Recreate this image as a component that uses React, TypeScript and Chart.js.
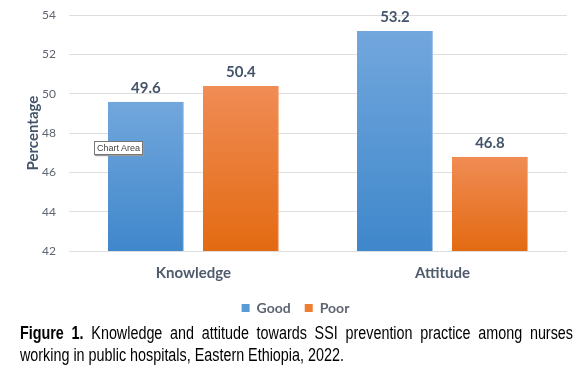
import React, { useEffect, useRef } from "react";
import { Chart, registerables } from "chart.js";

Chart.register(...registerables);

const categories = ["Knowledge", "Attitude"];
const goodValues = [49.6, 53.2];
const poorValues = [50.4, 46.8];
const seriesNames = ["Good", "Poor"];

const FONT = "Lato, 'Open Sans', 'Noto Sans', sans-serif";

function gradFill(top: string, bottom: string) {
  return (ctx: any) => {
    const chart = ctx.chart;
    const area = chart.chartArea;
    if (!area || ctx.type !== "data") return bottom;
    const y = chart.scales.y.getPixelForValue(ctx.raw);
    const g = chart.ctx.createLinearGradient(0, y, 0, area.bottom);
    g.addColorStop(0, top);
    g.addColorStop(1, bottom);
    return g;
  };
}

const labelPlugin = {
  id: "valueLabels",
  afterDatasetsDraw(chart: any) {
    const c = chart.ctx;
    c.save();
    c.font = `bold 15px ${FONT}`;
    c.fillStyle = "#44546a";
    c.textAlign = "center";
    c.textBaseline = "bottom";
    chart.data.datasets.forEach((ds: any, i: number) => {
      const meta = chart.getDatasetMeta(i);
      meta.data.forEach((bar: any, j: number) => {
        c.fillText(ds.data[j].toFixed(1), bar.x, bar.y - 6);
      });
    });
    c.restore();
  },
};

const captionFont = "'Liberation Sans', Arial, sans-serif";
const SCALE = 0.82;

export default function App() {
  const ref = useRef<HTMLCanvasElement>(null);
  useEffect(() => {
    document.body.style.margin = "0";
    const chart = new Chart(ref.current!, {
      type: "bar",
      data: {
        labels: categories,
        datasets: [
          {
            label: seriesNames[0],
            data: goodValues,
            backgroundColor: gradFill("#72a7dd", "#3f87cb"),
            borderColor: "#9cc3ea",
            borderWidth: { right: 1 } as any,
          },
          {
            label: seriesNames[1],
            data: poorValues,
            backgroundColor: gradFill("#f08c55", "#e36a12"),
            borderColor: "#f3b088",
            borderWidth: { right: 1 } as any,
          },
        ],
      },
      options: {
        animation: false,
        responsive: false,
        maintainAspectRatio: false,
        datasets: { bar: { categoryPercentage: 0.763, barPercentage: 0.8 } },
        layout: { padding: { left: 24, right: 20, top: 0, bottom: 0 } },
        scales: {
          y: {
            min: 42,
            max: 54,
            ticks: { stepSize: 2, color: "#5d6472", font: { size: 12, family: FONT }, padding: 13 },
            grid: { color: "#dedede", drawTicks: false },
            border: { display: false },
            title: {
              display: true,
              text: "Percentage",
              color: "#44546a",
              font: { size: 15, weight: "bold", family: FONT },
              padding: { top: 0, bottom: -13 },
            },
          },
          x: {
            ticks: { color: "#4f5b6b", font: { size: 15, weight: "bold", family: FONT }, padding: 5 },
            grid: { display: false },
            border: { display: false },
          },
        },
        plugins: {
          legend: {
            position: "bottom",
            labels: {
              boxWidth: 8,
              boxHeight: 8,
              color: "#5d6472",
              font: { size: 14, weight: "bold", family: FONT },
              padding: 14,
              generateLabels: (ch: any) =>
                ch.data.datasets.map((ds: any, i: number) => ({
                  text: ds.label,
                  fillStyle: i === 0 ? "#5b9bd5" : "#ed7d31",
                  strokeStyle: i === 0 ? "#5b9bd5" : "#ed7d31",
                  lineWidth: 0,
                  datasetIndex: i,
                  fontColor: "#5d6472",
                })),
            },
          },
          tooltip: { enabled: false },
        },
      },
      plugins: [labelPlugin],
    });
    return () => chart.destroy();
  }, []);

  const lineStyle: React.CSSProperties = {
    whiteSpace: "nowrap",
    height: 22,
    lineHeight: "22px",
  };

  return (
    <div style={{ position: "relative", width: 587, height: 373, background: "#fff", overflow: "hidden" }}>
      <canvas ref={ref} width={587} height={330} style={{ position: "absolute", left: 0, top: -5 }} />
      <div
        style={{
          position: "absolute",
          left: 94,
          top: 141,
          padding: "0 2px",
          height: 12,
          lineHeight: "12px",
          fontSize: 9,
          fontFamily: captionFont,
          color: "#444",
          background: "#fff",
          border: "1px solid #777",
          boxShadow: "1px 1px 1px #999",
        }}
      >
        Chart Area
      </div>
      <div
        style={{
          position: "absolute",
          left: 20,
          top: 322,
          width: 553 / SCALE,
          transform: `scaleX(${SCALE})`,
          transformOrigin: "0 0",
          fontFamily: captionFont,
          fontSize: 17.5,
          color: "#000",
        }}
      >
        <div style={{ ...lineStyle, textAlign: "justify", textAlignLast: "justify" as any }}>
          <b>Figure 1.</b> Knowledge and attitude towards SSI prevention practice among nurses
        </div>
        <div style={lineStyle}>working in public hospitals, Eastern Ethiopia, 2022.</div>
      </div>
    </div>
  );
}
